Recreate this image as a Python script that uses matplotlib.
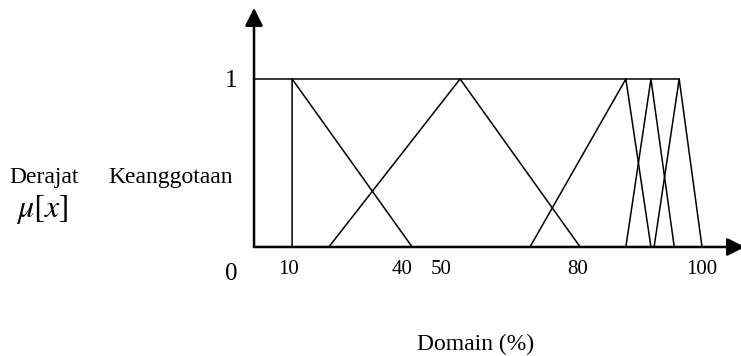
import matplotlib
matplotlib.use('Agg')
import matplotlib.pyplot as plt

# membership functions, domain in %, membership 0..1
top_x = [0, 94.9]
top_y = [1, 1]
shoulder_x = [8.5, 8.5, 35.3]
shoulder_y = [0, 1, 0]
tri_x = [
    [16.7, 46.0, 72.8],
    [61.6, 83.0, 88.6],
    [83.0, 88.6, 93.8],
    [89.3, 94.9, 100.0],
]
tri_y = [0, 1, 0]

tick_pos = [7.6, 33.0, 41.7, 72.3, 100]
tick_labels = ['10', '40', '50', '80', '100']

plt.rcParams['font.family'] = 'Liberation Serif'
plt.rcParams['mathtext.fontset'] = 'stix'

W, H = 741, 356
fig = plt.figure(figsize=(W / 100, H / 100), dpi=100)
ax = fig.add_axes([0, 0, 1, 1])
ax.set_xlim(-56.7, 108.7)
ax.set_ylim(-0.649, 1.470)
ax.axis('off')

lw = 1.1
ax.plot(top_x, top_y, color='black', lw=lw)
ax.plot(shoulder_x, shoulder_y, color='black', lw=lw)
for xs in tri_x:
    ax.plot(xs, tri_y, color='black', lw=lw)

# axes with arrow heads
arrow = dict(arrowstyle='-|>,head_length=0.9,head_width=0.45', color='black',
             lw=1.8, mutation_scale=12, shrinkA=0, shrinkB=0)
ax.annotate('', xy=(0, 1.423), xytext=(0, 0), arrowprops=arrow,
            annotation_clip=False)
ax.annotate('', xy=(109.6, 0), xytext=(0, 0), arrowprops=arrow,
            annotation_clip=False)

for p, lab in zip(tick_pos, tick_labels):
    ax.text(p, -0.137, lab, ha='center', va='center', fontsize=15)


def ftext(x, y, s, **kw):
    fig.text(x / W, 1 - y / H, s, **kw)


ftext(231, 81, '1', ha='center', va='center', fontsize=18)
ftext(231, 274, '0', ha='center', va='center', fontsize=18)
ftext(44, 183, 'Derajat', ha='center', va='baseline', fontsize=17)
ftext(108, 183, 'Keanggotaan', ha='left', va='baseline', fontsize=17)
ftext(42, 210, r'$\mu[x]$', ha='center', va='center', fontsize=23)
ftext(476, 344, 'Domain (%)', ha='center', va='center', fontsize=17)

fig.savefig('out.png', dpi=100)
